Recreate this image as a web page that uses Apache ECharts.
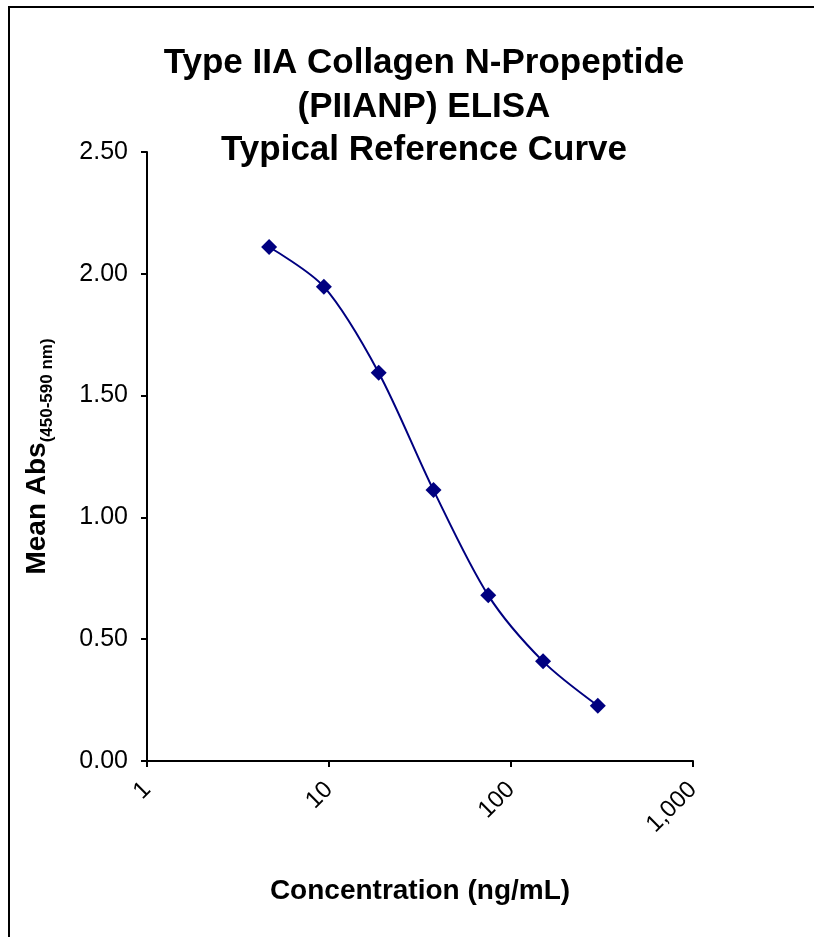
<!DOCTYPE html>
<html>
<head>
<meta charset="utf-8">
<script src="https://cdn.jsdelivr.net/npm/echarts@6/dist/echarts.min.js"></script>
<style>
html,body{margin:0;padding:0;background:#fff;}
#c{width:814px;height:937px;}
</style>
</head>
<body>
<div id="c"></div>
<script>
const titleLines = ['Type IIA Collagen N-Propeptide', '(PIIANP) ELISA', 'Typical Reference Curve'];
const concentrations = [4.6875, 9.375, 18.75, 37.5, 75, 150, 300];
const meanAbs = [2.11, 1.947, 1.594, 1.112, 0.68, 0.409, 0.227];
const yTicks = [0, 0.5, 1.0, 1.5, 2.0, 2.5];
const xTicks = [1, 10, 100, 1000];

const chart = echarts.init(document.getElementById('c'), null, {renderer: 'canvas'});
const font = '"Liberation Sans", Arial, sans-serif';
chart.setOption({
  backgroundColor: '#fff',
  animation: false,
  graphic: [
    {type: 'rect', shape: {x: 9, y: 7, width: 900, height: 1000}, style: {fill: 'none', stroke: '#000', lineWidth: 2}, silent: true}
  ],
  title: {
    text: titleLines.join('\n'),
    left: 419, top: 37, textAlign: 'center',
    textStyle: {fontFamily: font, fontWeight: 'bold', fontSize: 35, lineHeight: 43.5, color: '#000'}
  },
  grid: {left: 147, right: 121, top: 152, bottom: 176, containLabel: false},
  xAxis: {
    type: 'log', logBase: 10, min: 1, max: 1000,
    name: 'Concentration (ng/mL)', nameLocation: 'middle', nameGap: 116,
    nameTextStyle: {fontFamily: font, fontWeight: 'bold', fontSize: 28, color: '#000'},
    axisLine: {lineStyle: {color: '#000', width: 2}},
    axisTick: {show: true, inside: false, length: 6, lineStyle: {color: '#000', width: 2}},
    minorTick: {show: false},
    splitLine: {show: false},
    axisLabel: {
      rotate: 45, margin: 25, color: '#000', fontFamily: font, fontSize: 24,
      formatter: v => xTicks.includes(Math.round(v)) ? Math.round(v).toLocaleString('en-US') : ''
    }
  },
  yAxis: {
    type: 'value', min: 0, max: 2.5, interval: 0.5,
    name: '{a|Mean Abs}{b|(450-590 nm)}', nameLocation: 'middle', nameGap: 96, nameRotate: 90,
    nameTextStyle: {
      rich: {
        a: {fontFamily: font, fontWeight: 'bold', fontSize: 28, color: '#000', verticalAlign: 'bottom'},
        b: {fontFamily: font, fontWeight: 'bold', fontSize: 17, color: '#000', verticalAlign: 'bottom', padding: [0, 0, -5, 0]}
      }
    },
    axisLine: {show: true, lineStyle: {color: '#000', width: 2}},
    axisTick: {show: true, inside: false, length: 6, lineStyle: {color: '#000', width: 2}},
    splitLine: {show: false},
    axisLabel: {color: '#000', fontFamily: font, fontSize: 25, margin: 19, formatter: v => v.toFixed(2)}
  },
  series: [{
    type: 'line',
    data: concentrations.map((c, i) => [c, meanAbs[i]]),
    smooth: 0.3,
    symbol: 'diamond', symbolSize: 16,
    itemStyle: {color: '#000080'},
    lineStyle: {color: '#000080', width: 2}
  }]
});
</script>
</body>
</html>
